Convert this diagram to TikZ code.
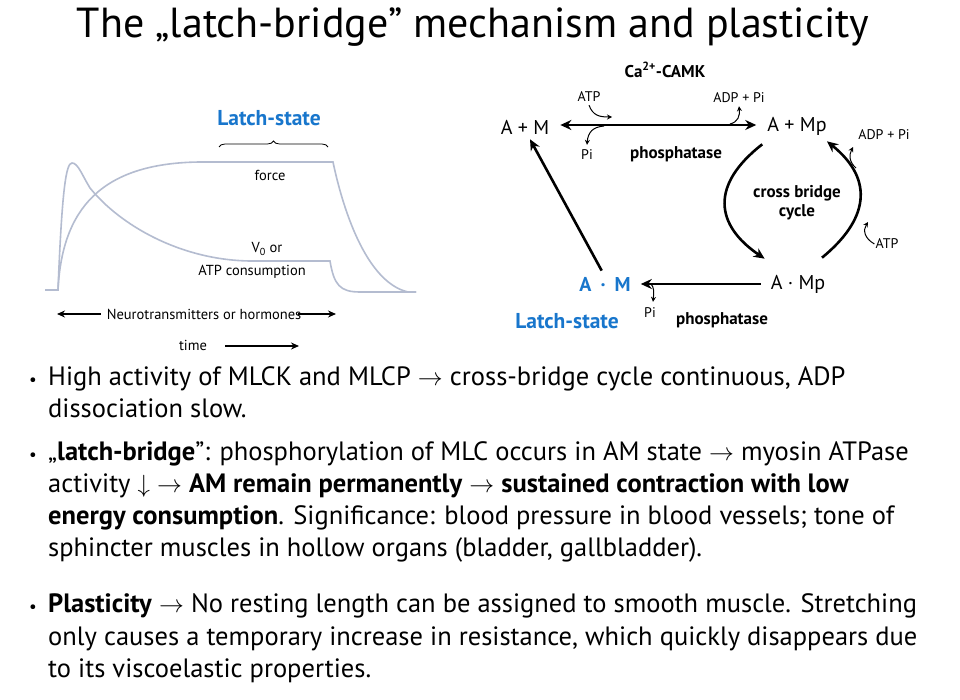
\documentclass[tikz,border=0pt]{standalone}
\usepackage{fontspec}
\setmainfont{PT Sans}
\usetikzlibrary{arrows.meta,decorations.pathreplacing}
\definecolor{latchblue}{RGB}{24,118,204}
\definecolor{curvegray}{RGB}{180,188,208}
\begin{document}
\begin{tikzpicture}[x=1pt,y=-1pt,
  lbl/.style={inner sep=0pt, font=\fontsize{14.5}{16}\selectfont},
  smalllbl/.style={inner sep=0pt, font=\fontsize{14}{16}\selectfont},
  statelbl/.style={inner sep=0pt, font=\fontsize{20}{23}\selectfont},
  boldlbl/.style={inner sep=0pt, font=\bfseries\fontsize{17}{19}\selectfont},
  latch/.style={inner sep=0pt, text=latchblue, font=\bfseries\fontsize{21.5}{24}\selectfont},
  graphcurve/.style={draw=curvegray, line width=1.6pt},
  bigarrow/.style={line width=2.6pt, -{Stealth[length=11pt,width=10pt]}},
  tinyarrow/.style={line width=1pt, -{Stealth[length=5pt,width=5pt]}},
  timearrow/.style={line width=1.4pt, -{Stealth[length=8pt,width=7pt]}},
  bodytext/.style={anchor=base west, inner sep=0pt, font=\fontsize{26.5}{30}\selectfont},
  bulletdot/.style={anchor=base, inner sep=0pt, font=\fontsize{17}{18}\selectfont},
]
\useasboundingbox[fill=white] (0,0) rectangle (960,700);

% title
\node[anchor=base, inner sep=0pt, font=\fontsize{42}{48}\selectfont] (title) at (473,38)
  {The „latch-bridge” mechanism and plasticity};

% ---------- left graph ----------
\draw[graphcurve] (45,290) -- (58,290) .. controls (62,210) and (100,163) .. (200,162)
  -- (333,162) .. controls (342,205) and (365,282) .. (408,292) -- (416,292);
\draw[graphcurve] (58,290) .. controls (62,190) and (66,163) .. (72,163)
  .. controls (78,163) and (82,175) .. (90,188)
  .. controls (120,225) and (180,260) .. (250,261) -- (330,261)
  .. controls (334,285) and (340,292) .. (360,292) -- (416,292);

\node[latch] (latchA) at (269,118) {Latch-state};
\draw[line width=0.8pt, decorate, decoration={brace, amplitude=6pt}] (219,147) -- (328,147);
\node[lbl] (force) at (270,175) {force};
\node[lbl] (vzero) at (267,249) {V\textsubscript{0} or};
\node[lbl] (atpc) at (252,272) {ATP consumption};

\node[lbl] (nt) at (204,314) {Neurotransmitters or hormones};
\coordinate (ntL) at (57,314);
\coordinate (ntR) at (336,314);
\draw[timearrow] ([xshift=-6pt]nt.west) -- (ntL);
\draw[timearrow] ([xshift=-3pt]nt.east) -- (ntR);

\node[lbl] (time) at (193,345) {time};
\coordinate (timeR) at (299,346);
\draw[timearrow] ([xshift=18pt,yshift=-1pt]time.east) -- (timeR);

% ---------- right diagram ----------
\node[boldlbl] (camk) at (665,70) {Ca\textsuperscript{2+}-CAMK};

\node[statelbl] (AM) at (525,127) {A + M};
\node[statelbl] (AMp) at (797,126) {A + Mp};
\node[statelbl, text=latchblue, font=\bfseries\fontsize{20}{23}\selectfont] (AdM) at (605,284) {A\hspace{0.45em}·\hspace{0.45em}M};
\node[statelbl] (AdMp) at (798,284) {A · Mp};

\draw[line width=2.6pt, {Stealth[length=11pt,width=10pt]}-{Stealth[length=11pt,width=10pt]}]
  ([xshift=11pt,yshift=2pt]AM.east) -- ([xshift=-11pt,yshift=1pt]AMp.west);

\node[smalllbl] (atpT) at (589,97) {ATP};
\node[smalllbl] (piT) at (587,155) {Pi};
\node[smalllbl] (adpT) at (739,98) {ADP + Pi};
\draw[tinyarrow] ([yshift=-3pt]atpT.south) .. controls (593,116) and (600,117) .. (612,117);
\draw[tinyarrow] (604,126) .. controls (593,127) and (588,132) .. ([yshift=5pt]piT.north);
\draw[tinyarrow] (730,124) .. controls (738,122) and (740,116) .. ([yshift=-3pt]adpT.south);

\node[boldlbl] (phosT) at (676,154) {phosphatase};

% left diagonal
\draw[bigarrow, shorten <=7pt] (AdM.north) -- ([xshift=5pt,yshift=-5pt]AM.south);

% cross bridge cycle
\draw[bigarrow] ([xshift=-5pt,yshift=-9pt]AMp.south west) .. controls (710,185) and (715,225) .. ([xshift=-6pt,yshift=16pt]AdMp.north west);
\draw[bigarrow] ([xshift=24pt,yshift=17pt]AdMp.north) .. controls (868,220) and (875,180) .. ([xshift=30pt,yshift=-6pt]AMp.south);
\node[boldlbl] (cbc1) at (797,193) {cross bridge};
\node[boldlbl] (cbc2) at (797,212) {cycle};

\node[smalllbl] (adpR) at (884,135) {ADP + Pi};
\node[smalllbl] (atpR) at (887,244) {ATP};
\draw[tinyarrow] (856,168) .. controls (849,162) and (849,155) .. (853,147);
\draw[tinyarrow] ([xshift=-1pt]atpR.west) .. controls (864,238) and (863,230) .. (868,222);

% bottom
\draw[bigarrow] ([xshift=-10pt]AdMp.west) -- ([xshift=10pt]AdM.east);
\node[smalllbl] (piB) at (650,313) {Pi};
\draw[tinyarrow] (651,284) .. controls (654,287) and (654,292) .. ([xshift=3pt,yshift=6pt]piB.north);
\node[latch] (latchB) at (567,321) {Latch-state};
\node[boldlbl] (phosB) at (722,320) {phosphatase};

% ---------- bullets ----------
\node[bulletdot] (d1) at (33,385) {•};
\node[bodytext] (b1a) at (48,385) {High activity of MLCK and MLCP $\rightarrow$ cross-bridge cycle continuous, ADP};
\node[bodytext] (b1b) at (48,417) {dissociation slow.};
\node[bulletdot] (d2) at (33,460) {•};
\node[bodytext] (b2a) at (48,460) {„\textbf{latch-bridge}”: phosphorylation of MLC occurs in AM state $\rightarrow$ myosin ATPase};
\node[bodytext] (b2b) at (48,492) {activity $\downarrow$ $\rightarrow$ \textbf{AM remain permanently} $\rightarrow$ \textbf{sustained contraction with low}};
\node[bodytext] (b2c) at (48,524) {\textbf{energy consumption}. Significance: blood pressure in blood vessels; tone of};
\node[bodytext] (b2d) at (48,556) {sphincter muscles in hollow organs (bladder, gallbladder).};
\node[bulletdot] (d3) at (33,612) {•};
\node[bodytext] (b3a) at (48,612) {\textbf{Plasticity} $\rightarrow$ No resting length can be assigned to smooth muscle. Stretching};
\node[bodytext] (b3b) at (48,645) {only causes a temporary increase in resistance, which quickly disappears due};
\node[bodytext] (b3c) at (48,677) {to its viscoelastic properties.};
\end{tikzpicture}
\end{document}
